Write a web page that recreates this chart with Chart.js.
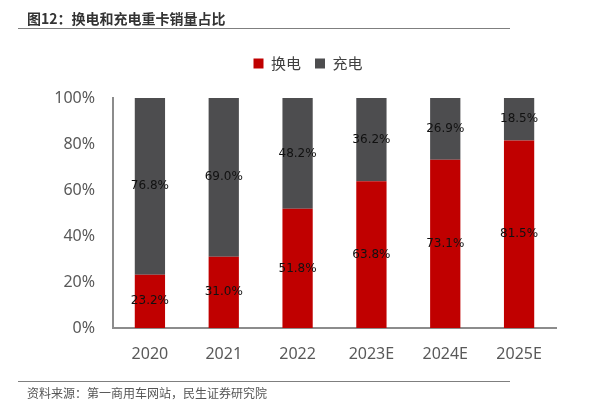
<!DOCTYPE html>
<html>
<head>
<meta charset="utf-8">
<script src="https://cdn.jsdelivr.net/npm/chart.js@4/dist/chart.umd.min.js"></script>
<style>
  html, body { margin: 0; padding: 0; background: #fff; }
  #wrap { position: relative; width: 607px; height: 407px; overflow: hidden; }
  #title { position: absolute; left: 27px; top: 8px; font: bold 14px "Noto Sans CJK SC", sans-serif; color: #333; }
  .rule { position: absolute; left: 18px; width: 492px; height: 1px; background: #7f7f7f; }
  #source { position: absolute; left: 27px; top: 384px; font: 12px "Noto Sans CJK SC", sans-serif; color: #555; }
  #box { position: absolute; left: 0; top: 0; width: 607px; height: 407px; }
</style>
</head>
<body>
<div id="wrap">
  <div id="box"><canvas id="chart"></canvas></div>
  <div id="title">图12：换电和充电重卡销量占比</div>
  <div class="rule" style="top:28px"></div>
  <div class="rule" style="top:381px"></div>
  <div id="source">资料来源：第一商用车网站，民生证券研究院</div>
</div>
<script>
const years = ['2020', '2021', '2022', '2023E', '2024E', '2025E'];
const swapShare = [23.2, 31.0, 51.8, 63.8, 73.1, 81.5];
const chargeShare = [76.8, 69.0, 48.2, 36.2, 26.9, 18.5];
const yTicks = [0, 20, 40, 60, 80, 100];

const tickFont = { family: '"Noto Sans", sans-serif', size: 16 };

// labels in the middle of each segment
const segmentLabels = {
  id: 'segmentLabels',
  afterDatasetsDraw(chart) {
    const { ctx } = chart;
    ctx.save();
    ctx.font = '12px "DejaVu Sans", sans-serif';
    ctx.fillStyle = '#111';
    ctx.textAlign = 'center';
    ctx.textBaseline = 'middle';
    chart.data.datasets.forEach((ds, di) => {
      chart.getDatasetMeta(di).data.forEach((bar, i) => {
        const mid = (bar.y + bar.base) / 2;
        ctx.fillText(ds.data[i].toFixed(1) + '%', bar.x, mid);
      });
    });
    ctx.restore();
  },
};

// extra room under the legend, and nudge it a bit right
const legendTweak = {
  id: 'legendTweak',
  beforeInit(chart) {
    const fit = chart.legend.fit;
    chart.legend.fit = function () {
      fit.call(this);
      this.height += 17;
    };
  },
  afterLayout(chart) {
    chart.legend.left += 5;
    chart.legend.right += 5;
  },
};

new Chart(document.querySelector('#chart'), {
  type: 'bar',
  data: {
    labels: years,
    datasets: [
      { label: '换电', data: swapShare, backgroundColor: '#c00000', barPercentage: 0.82, categoryPercentage: 0.5 },
      { label: '充电', data: chargeShare, backgroundColor: '#4d4d4f', barPercentage: 0.82, categoryPercentage: 0.5 },
    ],
  },
  options: {
    responsive: true,
    maintainAspectRatio: false,
    animation: false,
    layout: { padding: { top: 42, left: 50, right: 51, bottom: 34 } },
    plugins: {
      legend: {
        position: 'top',
        labels: {
          boxWidth: 10, boxHeight: 10, padding: 14,
          color: '#404040',
          font: { family: '"Noto Sans CJK SC", sans-serif', size: 15 },
        },
      },
      tooltip: { enabled: false },
    },
    scales: {
      x: {
        stacked: true,
        afterFit: (scale) => { scale.height = 45; },
        grid: { display: false },
        border: { display: true, color: '#8c8c8c', width: 2 },
        ticks: { color: '#595959', font: tickFont, padding: 9 },
      },
      y: {
        stacked: true,
        min: 0,
        max: 100,
        afterBuildTicks: (scale) => { scale.ticks = yTicks.map((v) => ({ value: v })); },
        afterFit: (scale) => { scale.width = 63; },
        grid: { display: false },
        border: { display: true, color: '#8c8c8c', width: 2 },
        ticks: { color: '#595959', font: tickFont, padding: 10, callback: (v) => v + '%' },
      },
    },
  },
  plugins: [segmentLabels, legendTweak],
});
</script>
</body>
</html>
